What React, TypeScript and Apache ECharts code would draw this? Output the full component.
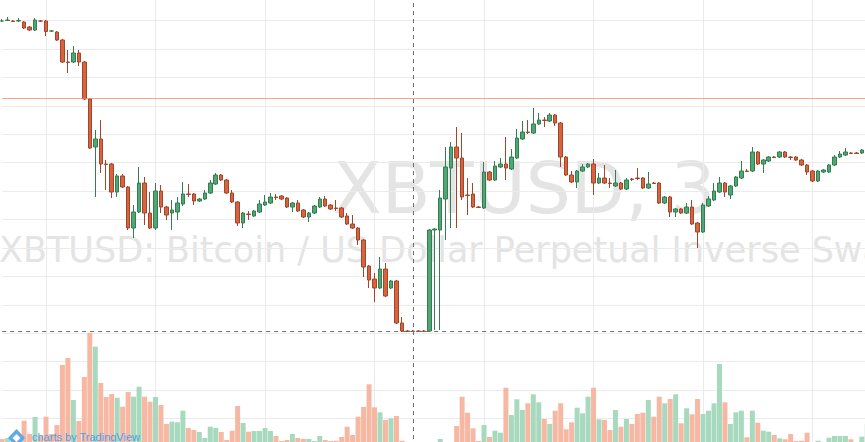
import React, { useEffect, useRef } from "react";
import * as echarts from "echarts";

// 3-minute candles, XBTUSD
const OPEN = [
  6626, 6626.5, 6626, 6626, 6625, 6620, 6617, 6626, 6626, 6616,
  6615, 6607, 6585, 6585, 6594, 6585, 6548, 6500, 6508, 6483,
  6483, 6455, 6471, 6460, 6419, 6435, 6464, 6434, 6419, 6456,
  6440, 6434, 6435, 6443, 6453, 6453, 6446, 6448, 6454, 6463,
  6472, 6467, 6454, 6445, 6424, 6433, 6431, 6435, 6442, 6444,
  6450, 6451, 6449, 6440, 6444, 6437, 6430, 6434, 6440, 6448,
  6442, 6439, 6439, 6431, 6423, 6419, 6407, 6381, 6368, 6359,
  6378, 6359, 6366, 6324, 6316, 6316, 6316, 6316, 6316, 6417,
  6417, 6448, 6479, 6500, 6489, 6452, 6453, 6440, 6439, 6475,
  6467, 6480, 6483, 6478, 6489, 6508, 6515, 6514, 6523, 6527,
  6526, 6532, 6524, 6490, 6472, 6465, 6476, 6480, 6483, 6464,
  6469, 6464, 6461, 6464, 6458, 6468, 6469, 6469, 6459, 6464,
  6464, 6444, 6450, 6435, 6438, 6434, 6440, 6424, 6415, 6441,
  6447, 6455, 6464, 6452, 6461, 6469, 6476, 6476, 6495, 6483,
  6486, 6490, 6490, 6495, 6490, 6490, 6487, 6482, 6476, 6466,
  6475, 6475, 6482, 6490, 6492, 6494, 6494, 6494, 6498,
];
const CLOSE = [
  6626, 6627, 6625.5, 6626.5, 6619, 6617, 6627, 6626, 6615.5, 6616,
  6607, 6585, 6584.5, 6594, 6585, 6548, 6499, 6508, 6483, 6482.5,
  6455, 6471, 6460, 6419, 6435, 6464, 6434, 6419, 6456, 6440,
  6432, 6437, 6444, 6453, 6452.5, 6446, 6448, 6454, 6464, 6472,
  6467, 6454, 6445, 6424, 6434, 6432.5, 6436, 6443, 6445, 6450,
  6449.5, 6448, 6440, 6444, 6436, 6430, 6434, 6441, 6448, 6441,
  6438, 6438.5, 6430, 6423, 6419, 6407, 6380, 6367, 6359, 6378,
  6351, 6366, 6324, 6316, 6315.5, 6315.5, 6315.5, 6315.5, 6417, 6418,
  6449, 6480, 6500, 6489, 6450, 6451.5, 6440, 6439.5, 6475, 6467,
  6481, 6483, 6479, 6490, 6509, 6515, 6514.5, 6523, 6527, 6526.5,
  6532, 6524, 6490, 6472, 6465, 6476, 6480, 6483, 6464, 6469,
  6464, 6463.5, 6464, 6458, 6467, 6467.5, 6468.5, 6459, 6463, 6463.5,
  6444, 6450, 6435, 6438, 6434, 6440, 6423, 6415, 6442, 6448,
  6456, 6464, 6455, 6461, 6470, 6476, 6475.5, 6495, 6483, 6487,
  6490, 6489.5, 6495, 6490, 6489.5, 6487, 6482, 6475, 6466, 6476,
  6477, 6482, 6490, 6493, 6495, 6493.5, 6493.5, 6497, 6502,
];
const LOW = [
  6625, 6626, 6625, 6625, 6618, 6616, 6616, 6625, 6611, 6615,
  6606, 6584, 6574, 6584, 6581, 6547, 6498, 6450, 6474, 6457,
  6449, 6450, 6459, 6417, 6409, 6434, 6422, 6418, 6417, 6434,
  6427, 6417, 6427, 6441, 6450, 6442, 6445, 6447, 6453, 6462,
  6466, 6453, 6444, 6421, 6419, 6427, 6430, 6434, 6441, 6443,
  6447, 6447, 6439, 6435, 6435, 6429, 6425, 6433, 6439, 6440,
  6437, 6436, 6429, 6422, 6418, 6402, 6370, 6359, 6345, 6358,
  6350, 6358, 6323, 6315, 6315, 6315, 6315, 6315, 6315, 6317,
  6317, 6407, 6419, 6419, 6447, 6432, 6439, 6439, 6438, 6466,
  6466, 6479, 6467, 6477, 6488, 6507, 6513, 6513, 6522, 6520,
  6525, 6521, 6480, 6471, 6464, 6459, 6475, 6479, 6452, 6463,
  6463, 6459, 6460, 6457, 6457, 6466, 6467, 6458, 6458, 6463,
  6443, 6443, 6430, 6430, 6433, 6433, 6422, 6399, 6414, 6440,
  6446, 6454, 6450, 6448, 6460, 6468, 6475, 6475, 6482, 6474,
  6485, 6489, 6489, 6489, 6487, 6486, 6481, 6472, 6465, 6465,
  6474, 6474, 6481, 6489, 6491, 6493, 6493, 6493, 6497,
];
const HIGH = [
  6628, 6630, 6627, 6629, 6626, 6621, 6629, 6627, 6627, 6617,
  6616, 6608, 6597, 6601, 6597, 6586, 6549, 6517, 6527, 6487,
  6484, 6473, 6473, 6461, 6442, 6480, 6470, 6455, 6464, 6462,
  6441, 6447, 6450, 6465, 6463, 6454, 6449, 6457, 6467, 6474,
  6473, 6468, 6457, 6446, 6435, 6436, 6437, 6447, 6452, 6454,
  6453, 6452, 6450, 6445, 6447, 6438, 6435, 6442, 6450, 6451,
  6443, 6447, 6440, 6434, 6432, 6420, 6408, 6382, 6374, 6390,
  6384, 6367, 6367, 6330, 6317, 6317, 6317, 6317, 6418, 6419,
  6457, 6500, 6505, 6520, 6514, 6469, 6464, 6441, 6485, 6476,
  6486, 6489, 6510, 6498, 6518, 6526, 6527, 6539, 6534, 6530,
  6534, 6533, 6525, 6491, 6476, 6477, 6483, 6484, 6488, 6474,
  6482, 6469, 6477, 6465, 6469, 6469, 6479, 6470, 6475, 6465,
  6465, 6451, 6451, 6439, 6439, 6444, 6447, 6425, 6444, 6451,
  6464, 6470, 6465, 6462, 6471, 6486, 6478, 6500, 6496, 6488,
  6491, 6491, 6496, 6496, 6491, 6491, 6488, 6483, 6477, 6477,
  6478, 6483, 6492, 6496, 6499, 6495, 6495, 6498, 6504,
];
// volume in thousands of contracts
const VOLUME = [
  80, 90, 110, 110, 263, 130, 300, 110, 303, 130,
  220, 820, 890, 470, 260, 700, 1143, 1003, 640, 500,
  530, 493, 403, 550, 503, 603, 503, 453, 500, 420,
  230, 253, 247, 363, 190, 170, 150, 90, 203, 190,
  150, 70, 163, 410, 240, 153, 160, 160, 190, 160,
  110, 60, 70, 130, 90, 80, 80, 60, 110, 70,
  60, 63, 100, 203, 120, 303, 400, 627, 397, 347,
  270, 287, 310, 63, 20, 20, 20, 20, 30, 30,
  80, 40, 40, 210, 503, 343, 187, 60, 220, 100,
  163, 143, 593, 320, 477, 370, 437, 527, 447, 280,
  230, 363, 437, 177, 247, 393, 337, 503, 593, 277,
  270, 170, 370, 203, 280, 230, 330, 343, 470, 303,
  503, 437, 480, 527, 237, 387, 327, 480, 330, 363,
  437, 830, 447, 230, 347, 363, 97, 363, 243, 163,
  153, 120, 87, 77, 130, 60, 63, 143, 50, 63,
  50, 93, 110, 110, 110, 77, 50, 103, 230,
];

const START_MIN = 12 * 60 + 36; // first candle 12:36, 3-minute bars
const TIMES: string[] = OPEN.map((_, i) => {
  const m = START_MIN + i * 3;
  const hh = String(Math.floor(m / 60) % 24).padStart(2, "0");
  const mm = String(m % 60).padStart(2, "0");
  return `${hh}:${mm}`;
});

const CROSS_INDEX = 75;
const CROSS_PRICE = 6316;
const PRICE_LINE = 6548.5;

const UP = "#4fa873";
const DOWN = "#d8643f";
const UP_BORDER = "#347d52";
const DOWN_BORDER = "#a1462a";
const VOL_UP = "#a6d9bd";
const VOL_DOWN = "#f6b8a3";
const GRID = "#ebebeb";

export default function App() {
  const ref = useRef<HTMLDivElement>(null);

  useEffect(() => {
    if (!ref.current) return;
    const chart = echarts.init(ref.current, undefined, { renderer: "svg" });

    const candles = OPEN.map((o, i) => [o, CLOSE[i], LOW[i], HIGH[i]]);
    const vols = VOLUME.map((v, i) => ({
      value: v,
      itemStyle: { color: CLOSE[i] > OPEN[i] ? VOL_UP : VOL_DOWN },
    }));

    chart.setOption({
      animation: false,
      backgroundColor: "#ffffff",
      grid: { left: 2.2, right: 2.7, top: 0, bottom: 0, containLabel: false },
      xAxis: {
        type: "category",
        data: TIMES,
        boundaryGap: false,
        axisLine: { show: false },
        axisTick: { show: false },
        axisLabel: { show: false },
        splitLine: {
          show: true,
          interval: (idx: number) => (idx - 8) % 20 === 0,
          lineStyle: { color: GRID, width: 1 },
        },
      },
      yAxis: [
        {
          type: "value",
          min: 6200,
          max: 6655,
          show: false,
          splitLine: { show: false },
        },
        {
          type: "value",
          min: 0,
          max: 4550,
          show: false,
          splitLine: { show: false },
        },
        {
          type: "value",
          min: 0,
          max: 16,
          interval: 1,
          axisLine: { show: false },
          axisTick: { show: false },
          axisLabel: { show: false },
          splitLine: { show: true, lineStyle: { color: GRID, width: 1 } },
        },
      ],
      series: [
        {
          type: "bar",
          yAxisIndex: 1,
          data: vols,
          barWidth: 5,
          z: 1,
          silent: true,
        },
        {
          type: "candlestick",
          yAxisIndex: 0,
          data: candles,
          barWidth: 4,
          z: 3,
          itemStyle: {
            color: UP,
            color0: DOWN,
            borderColor: UP_BORDER,
            borderColor0: DOWN_BORDER,
            borderWidth: 1,
          },
          markLine: {
            silent: true,
            symbol: "none",
            label: { show: false },
            animation: false,
            data: [
              {
                yAxis: PRICE_LINE,
                lineStyle: { color: "#f08a5d", width: 1, type: "solid", opacity: 0.75 },
              },
              {
                xAxis: TIMES[CROSS_INDEX],
                lineStyle: { color: "#6f6f6f", width: 1, type: [4, 4] },
              },
              {
                yAxis: CROSS_PRICE,
                lineStyle: { color: "#6f6f6f", width: 1, type: [4, 4] },
              },
            ],
          },
        },
      ],
      graphic: [
        {
          type: "text",
          x: 333,
          y: 196,
          z: 0,
          silent: true,
          style: {
            text: "XBTUSD, 3",
            fill: "#e4e4e4",
            fontSize: 71,
            fontFamily: "DejaVu Sans",
            align: "left",
            verticalAlign: "middle",
            textAlign: "left",
            textVerticalAlign: "middle",
          },
        },
        {
          type: "text",
          x: -1,
          y: 258,
          z: 0,
          silent: true,
          style: {
            text: "XBTUSD: Bitcoin / US Dollar Perpetual Inverse Swap",
            fill: "#e4e4e4",
            fontSize: 35,
            fontFamily: "DejaVu Sans",
            align: "left",
            verticalAlign: "middle",
            textAlign: "left",
            textVerticalAlign: "middle",
          },
        },
        {
          type: "polygon",
          z: 10,
          silent: true,
          shape: {
            points: [
              [8, 446],
              [16.5, 437],
              [25, 446],
              [16.5, 455],
            ],
          },
          style: { fill: "#5ea8ea" },
        },
        {
          type: "polygon",
          z: 11,
          silent: true,
          shape: {
            points: [
              [12.5, 446],
              [16.5, 442],
              [20.5, 446],
              [16.5, 450],
            ],
          },
          style: { fill: "#ffffff" },
        },
        {
          type: "text",
          x: 32,
          y: 445,
          z: 10,
          silent: true,
          style: {
            text: "charts by TradingView",
            fill: "#4f9fe6",
            fontSize: 11,
            fontFamily: "Liberation Sans",
            align: "left",
            verticalAlign: "middle",
            textAlign: "left",
            textVerticalAlign: "middle",
          },
        },
      ],
    });

    return () => {
      chart.dispose();
    };
  }, []);

  return (
    <div
      style={{
        position: "fixed",
        left: 0,
        top: 0,
        width: 865,
        height: 442,
        overflow: "hidden",
        background: "#ffffff",
      }}
    >
      <div
        ref={ref}
        style={{ position: "absolute", left: 0, top: -8, width: 870, height: 455 }}
      />
    </div>
  );
}
